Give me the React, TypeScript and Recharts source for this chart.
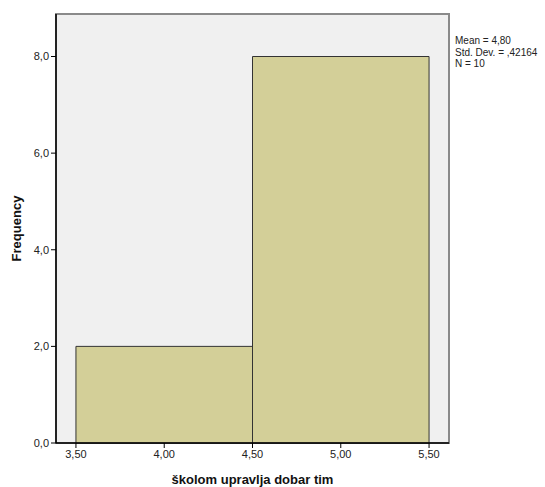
import React from 'react';
import { ComposedChart, XAxis, YAxis, ReferenceArea, Customized, Scatter } from 'recharts';

const binStarts = [3.5, 4.5];
const binEnds = [4.5, 5.5];
const counts = [2, 8];
const xTicks = [3.5, 4.0, 4.5, 5.0, 5.5];
const yTicks = [0, 2, 4, 6, 8];
const statsLines = ['Mean = 4,80', 'Std. Dev. = ,42164', 'N = 10'];
const xTitle = 'školom upravlja dobar tim';
const yTitle = 'Frequency';

const X_DOMAIN: [number, number] = [3.387, 5.613];
const Y_DOMAIN: [number, number] = [0, 8.88];

const font = '"Liberation Sans", Arial, sans-serif';
const fmtX = (d: number) => d.toFixed(2).replace('.', ',');
const fmtY = (d: number) => d.toFixed(1).replace('.', ',');

const Stats = () => (
  <g>
    {statsLines.map((s, i) => (
      <text key={i} x={455} y={44 + i * 11.5} fontSize={10} fontFamily={font} fill="#222">
        {s}
      </text>
    ))}
  </g>
);

export default function App() {
  const dummy = [{ x: 4, y: 0 }];
  return (
    <div style={{ position: 'absolute', left: 0, top: 0, background: '#fff' }}>
      <ComposedChart width={545} height={487} data={dummy} margin={{ top: 14, right: 96, left: 0, bottom: 0 }}>
        <XAxis
          dataKey="x"
          type="number"
          domain={X_DOMAIN}
          ticks={xTicks}
          tickFormatter={fmtX}
          allowDataOverflow
          height={44}
          axisLine={{ stroke: '#000', strokeWidth: 1.5 }}
          tickLine={{ stroke: '#000' }}
          tickSize={5}
          tick={{ fontSize: 11, fontFamily: font, fill: '#222' }}
          label={{ value: xTitle, position: 'insideBottom', offset: 3, style: { fontSize: 13, fontWeight: 'bold', fontFamily: font, fill: '#111' } }}
        />
        <YAxis
          type="number"
          domain={Y_DOMAIN}
          ticks={yTicks}
          tickFormatter={fmtY}
          allowDataOverflow
          width={56}
          axisLine={{ stroke: '#000', strokeWidth: 1.5 }}
          tickLine={{ stroke: '#000' }}
          tickSize={5}
          tick={{ fontSize: 11, fontFamily: font, fill: '#222' }}
          label={{ value: yTitle, angle: -90, position: 'insideLeft', offset: 16, style: { fontSize: 13, fontWeight: 'bold', fontFamily: font, fill: '#111', textAnchor: 'middle' } }}
        />
        <ReferenceArea x1={X_DOMAIN[0]} x2={X_DOMAIN[1]} y1={Y_DOMAIN[0]} y2={Y_DOMAIN[1]} fill="#f0f0f0" fillOpacity={1} stroke="#8a8a8a" strokeWidth={2} ifOverflow="visible" />
        {binStarts.map((s, i) => (
          <ReferenceArea key={i} x1={s} x2={binEnds[i]} y1={0} y2={counts[i]} fill="#d3cf98" fillOpacity={1} stroke="#333" strokeWidth={1} ifOverflow="visible" />
        ))}
        <Scatter dataKey="y" fill="none" isAnimationActive={false} shape={() => null} />
        <Customized component={Stats} />
      </ComposedChart>
    </div>
  );
}
